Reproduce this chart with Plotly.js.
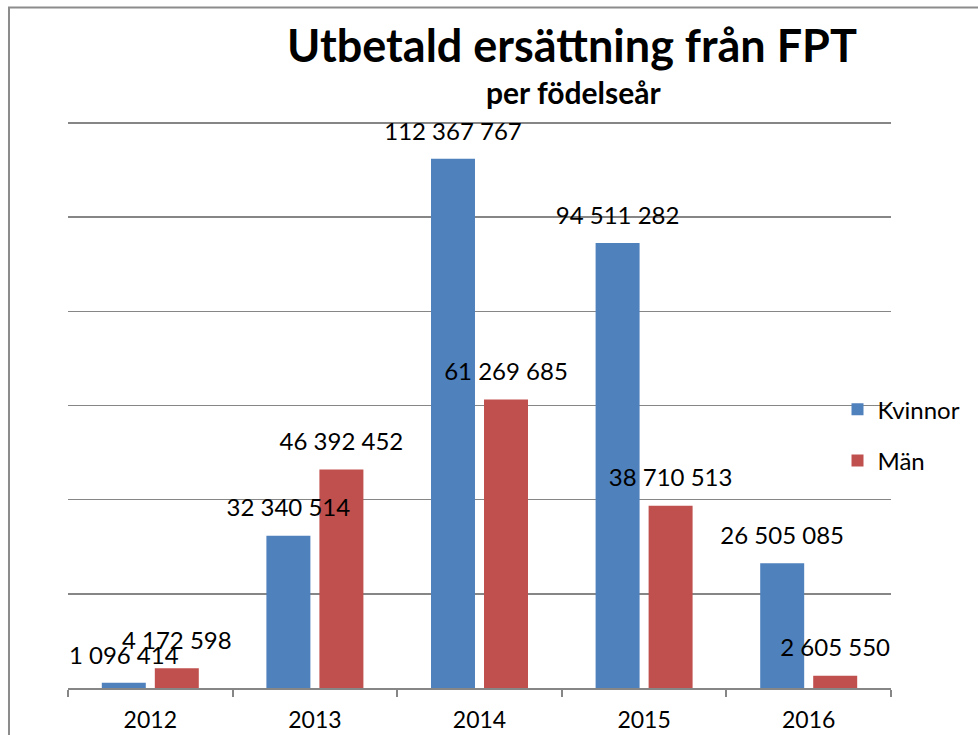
<!DOCTYPE html>
<html>
<head>
<meta charset="utf-8">
<script src="https://cdn.plot.ly/plotly-3.0.1.min.js"></script>
<style>
  body { margin: 0; background: #fff; }
  #chart { width: 978px; height: 735px; }
</style>
</head>
<body>
<div id="chart"></div>
<script>
var years = ['2012', '2013', '2014', '2015', '2016'];
var kvinnor = [1096414, 32340514, 112367767, 94511282, 26505085];
var man = [4172598, 46392452, 61269685, 38710513, 2605550];

var font = 'Lato, "Open Sans", sans-serif';
var colors = ['#4F81BD', '#C0504D'];

// number in a 24px span, a small blank line under it lifts the label off the bar
var labelTemplate = '<span style="font-size:24px">%{y:,.0f}</span><br>\u00a0';

// bars on the base axes
var trace1 = {
  x: years, y: kvinnor, type: 'bar', name: 'Kvinnor',
  legendgroup: 'k',
  marker: { color: colors[0] },
  hoverinfo: 'skip'
};
var trace2 = {
  x: years, y: man, type: 'bar', name: 'Män',
  legendgroup: 'm',
  marker: { color: colors[1] },
  hoverinfo: 'skip'
};

// same series again on overlaid axes, only for the labels, so they sit above all bars
function labelTrace(vals) {
  return {
    x: years, y: vals, type: 'bar',
    xaxis: 'x2', yaxis: 'y2',
    showlegend: false,
    marker: { color: 'rgba(0,0,0,0)' },
    texttemplate: labelTemplate,
    textposition: 'outside',
    constraintext: 'none',
    cliponaxis: false,
    textfont: { family: font, size: 11, color: '#000' },
    hoverinfo: 'skip'
  };
}

var data = [trace1, trace2, labelTrace(kvinnor), labelTrace(man)];

var layout = {
  width: 978,
  height: 735,
  margin: { l: 68, r: 87, t: 121, b: 47 },
  paper_bgcolor: '#fff',
  plot_bgcolor: '#fff',
  separators: ', ',
  font: { family: font, color: '#000' },
  barmode: 'group',
  bargap: 0.356,
  bargroupgap: 0.17,
  title: {
    text: '<b>Utbetald ersättning från FPT</b>',
    font: { family: font, size: 45, color: '#000' },
    x: 572 / 978,
    xref: 'container',
    xanchor: 'center',
    y: 1 - 46 / 735,
    yref: 'container',
    yanchor: 'middle'
  },
  annotations: [{
    text: '<b>per födelseår</b>',
    xref: 'paper',
    yref: 'paper',
    x: 0.6148,
    y: 1.052,
    xanchor: 'center',
    yanchor: 'middle',
    showarrow: false,
    font: { family: font, size: 30, color: '#000' }
  }],
  xaxis: {
    type: 'category',
    showline: true,
    linecolor: '#868686',
    linewidth: 2,
    ticks: 'outside',
    tickson: 'boundaries',
    ticklen: 7,
    tickcolor: '#868686',
    tickwidth: 2,
    ticklabelstandoff: 10,
    showgrid: false,
    tickfont: { family: font, size: 23, color: '#000' }
  },
  yaxis: {
    range: [0, 120400000],
    dtick: 20000000,
    showticklabels: false,
    showgrid: true,
    gridcolor: '#868686',
    gridwidth: 1.5,
    zeroline: false,
    showline: false
  },
  xaxis2: { overlaying: 'x', matches: 'x', type: 'category', visible: false },
  yaxis2: { overlaying: 'y', matches: 'y', visible: false },
  legend: {
    x: 0.935,
    xanchor: 'left',
    y: 0.446,
    yanchor: 'middle',
    tracegroupgap: 17,
    font: { family: font, size: 24, color: '#000' },
    bgcolor: 'rgba(0,0,0,0)'
  },
  shapes: [{
    type: 'rect',
    xref: 'paper',
    yref: 'paper',
    x0: -0.0717,
    x1: 1.2,
    y0: -0.2,
    y1: 1.2,
    line: { color: '#8c8c8c', width: 2 },
    layer: 'below'
  }],
  showlegend: true
};

Plotly.newPlot('chart', data, layout, { staticPlot: true });
</script>
</body>
</html>
